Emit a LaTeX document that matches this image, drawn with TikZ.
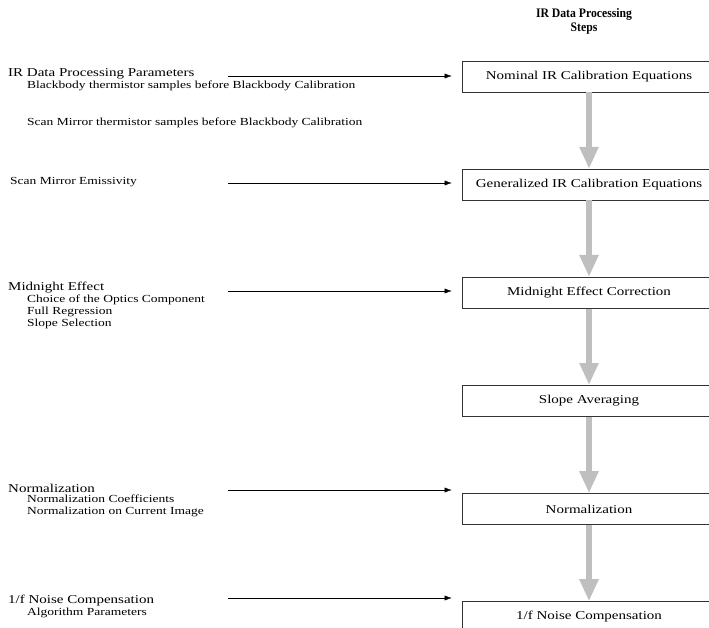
\documentclass[tikz,border=0pt]{standalone}
\usepackage{fontspec}
\setmainfont[FakeStretch=1.25]{Liberation Serif}
\newfontfamily\headfont[FakeStretch=0.9]{Liberation Serif}
\usetikzlibrary{arrows.meta, positioning}

\begin{document}
\begin{tikzpicture}[x=1pt, y=-1pt, node distance=76.5pt]
        \tikzset{
        stepbox/.style = {draw, semithick, draw=black!80, rectangle, minimum width=254pt, minimum height=31pt, inner sep=0pt, font=\fontsize{12}{13}\selectfont},
        param/.style   = {anchor=west, inner sep=0pt, font=\fontsize{12}{13}\selectfont},
        subparam/.style= {anchor=west, inner sep=0pt, font=\fontsize{10.8}{12}\selectfont},
        feed/.style    = {thin, -{Latex[length=7pt, width=5pt]}, shorten >=10pt},
        flow/.style    = {line width=6.5pt, draw=black!25, -{Triangle[length=22pt, width=18pt]}}
        }
        \useasboundingbox (0,0) rectangle (709,627);

        % Title
        \node[font=\headfont\bfseries\fontsize{13}{14}\selectfont, align=center] (title) at (584,21) {IR Data Processing\\Steps};

        % Processing steps
        \node[stepbox] (nominal) at (589,76.5) {Nominal IR Calibration Equations};
        \node[stepbox, below=of nominal] (general) {Generalized IR Calibration Equations};
        \node[stepbox, below=of general] (midnight) {Midnight Effect Correction};
        \node[stepbox, below=of midnight] (slope) {Slope Averaging};
        \node[stepbox, below=of slope] (norm) {Normalization};
        \node[stepbox, below=of norm] (noise) {1/f Noise Compensation};

        % Parameters
        \node[param] (irparam) at (8,74) {IR Data Processing Parameters};
        \node[subparam] (bbtherm) at (27,86) {Blackbody thermistor samples before Blackbody Calibration};
        \node[subparam] (smtherm) at (27,123) {Scan Mirror thermistor samples before Blackbody Calibration};
        \node[subparam] (smemis) at (10,182) {Scan Mirror Emissivity};
        \node[param] (mideff) at (8,288) {Midnight Effect};
        \node[subparam] (optics) at (27,300) {Choice of the Optics Component};
        \node[subparam] (fullreg) at (27,312) {Full Regression};
        \node[subparam] (slopesel) at (27,324) {Slope Selection};
        \node[param] (normparam) at (8,488) {Normalization};
        \node[subparam] (normcoef) at (27,499) {Normalization Coefficients};
        \node[subparam] (normcur) at (27,512) {Normalization on Current Image};
        \node[param] (noiseparam) at (8,601) {1/f Noise Compensation};
        \node[subparam] (algo) at (27,613) {Algorithm Parameters};

        % Inputs
        \coordinate (in1) at (228,76);
        \coordinate (in2) at (228,183);
        \coordinate (in3) at (228,291);
        \coordinate (in5) at (228,490);
        \coordinate (in6) at (228,598);
        \draw[feed] (in1) -- (in1 -| nominal.west);
        \draw[feed] (in2) -- (in2 -| general.west);
        \draw[feed] (in3) -- (in3 -| midnight.west);
        \draw[feed] (in5) -- (in5 -| norm.west);
        \draw[feed] (in6) -- (in6 -| noise.west);

        % Flow between steps
        \draw[flow] (nominal.south) -- (general.north);
        \draw[flow] (general.south) -- (midnight.north);
        \draw[flow] (midnight.south) -- (slope.north);
        \draw[flow] (slope.south) -- (norm.north);
        \draw[flow] (norm.south) -- (noise.north);
    \end{tikzpicture}
\end{document}
